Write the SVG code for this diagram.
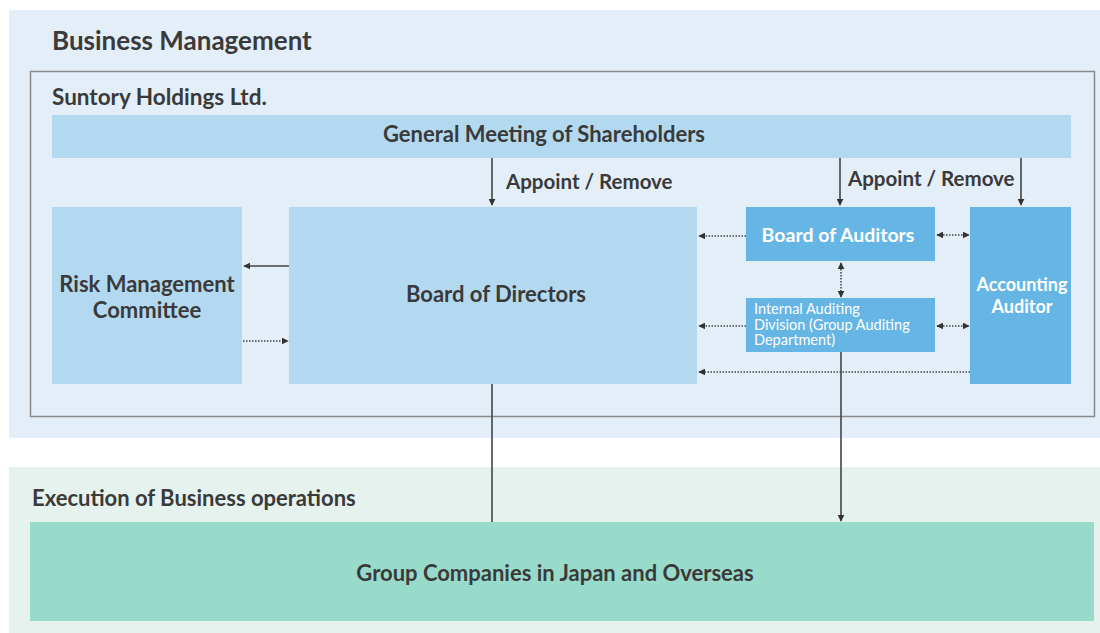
<svg xmlns="http://www.w3.org/2000/svg" width="1100" height="633" viewBox="0 0 1100 633">
<style>
text{font-family:Lato,"Open Sans","Liberation Sans",sans-serif;font-weight:700;fill:#3a3a3a}
.w{fill:#ffffff}
.c{text-anchor:middle}
.n{font-weight:400}
.solid{stroke:#444;stroke-width:1.6;fill:none}
.dot{stroke:#444;stroke-width:1.6;fill:none;stroke-dasharray:1.5 1.5}
</style>
<defs>
<marker id="ah" viewBox="0 0 10 10" refX="9" refY="5" markerWidth="7" markerHeight="7" orient="auto-start-reverse" markerUnits="userSpaceOnUse"><path d="M0,0 L10,5 L0,10 z" fill="#333"/></marker>
</defs>
<rect width="1100" height="633" fill="#ffffff"/>
<g id="business-management">
<rect x="9" y="10" width="1091" height="428" fill="#e3eef8"/>
<text x="52" y="50" font-size="26">Business Management</text>
</g>
<g id="suntory-holdings">
<rect x="30.5" y="71.5" width="1064" height="345" fill="none" stroke="#8a8a8a" stroke-width="1.5"/>
<text x="52" y="105" font-size="22.5">Suntory Holdings Ltd.</text>
</g>
<g id="execution">
<rect x="9" y="467" width="1091" height="166" fill="#e5f2ee"/>
<text x="32" y="506" font-size="22">Execution of Business operations</text>
</g>
<g id="general-meeting">
<rect x="52" y="115" width="1019" height="43" fill="#b3d9f0"/>
<text x="544" y="142" font-size="22" class="c">General Meeting of Shareholders</text>
</g>
<g id="risk-management">
<rect x="52" y="207" width="190" height="177" fill="#b3d9f0"/>
<text x="147" y="292" font-size="22" class="c">Risk Management</text>
<text x="147" y="318" font-size="22" class="c">Committee</text>
</g>
<g id="board-of-directors">
<rect x="289" y="207" width="408" height="177" fill="#b3d9f0"/>
<text x="496" y="302" font-size="22" class="c">Board of Directors</text>
</g>
<g id="board-of-auditors">
<rect x="746" y="207" width="189" height="54" fill="#65b5e5"/>
<text x="838" y="242" font-size="19.5" class="c w">Board of Auditors</text>
</g>
<g id="internal-auditing">
<rect x="746" y="298" width="189" height="54" fill="#65b5e5"/>
<text x="754" y="314" font-size="14.5" class="w n">Internal Auditing</text>
<text x="754" y="329.5" font-size="14.5" class="w n">Division (Group Auditing</text>
<text x="754" y="345" font-size="14.5" class="w n">Department)</text>
</g>
<g id="accounting-auditor">
<rect x="970" y="207" width="101" height="177" fill="#65b5e5"/>
<text x="1022" y="291" font-size="18" class="c w">Accounting</text>
<text x="1022" y="313" font-size="18" class="c w">Auditor</text>
</g>
<g id="group-companies">
<rect x="30" y="522" width="1064" height="99" fill="#99dbcb"/>
<text x="555" y="581" font-size="22" class="c">Group Companies in Japan and Overseas</text>
</g>
<g id="connectors">
<line class="solid" x1="492" y1="158" x2="492" y2="205" marker-end="url(#ah)"/>
<line class="solid" x1="840" y1="158" x2="840" y2="205" marker-end="url(#ah)"/>
<line class="solid" x1="1021" y1="158" x2="1021" y2="205" marker-end="url(#ah)"/>
<line class="solid" x1="289" y1="266" x2="244" y2="266" marker-end="url(#ah)"/>
<line class="dot" x1="243" y1="341" x2="288" y2="341" marker-end="url(#ah)"/>
<line class="dot" x1="746" y1="236" x2="699" y2="236" marker-end="url(#ah)"/>
<line class="dot" x1="937" y1="235" x2="969" y2="235" marker-start="url(#ah)" marker-end="url(#ah)"/>
<line class="dot" x1="841" y1="263" x2="841" y2="297" marker-start="url(#ah)" marker-end="url(#ah)"/>
<line class="dot" x1="746" y1="326" x2="699" y2="326" marker-end="url(#ah)"/>
<line class="dot" x1="937" y1="326" x2="969" y2="326" marker-start="url(#ah)" marker-end="url(#ah)"/>
<line class="dot" x1="970" y1="372" x2="699" y2="372" marker-end="url(#ah)"/>
<line class="solid" x1="492" y1="384" x2="492" y2="522"/>
<line class="solid" x1="841" y1="352" x2="841" y2="521" marker-end="url(#ah)"/>
<text x="506" y="189" font-size="20.5">Appoint / Remove</text>
<text x="848" y="186" font-size="20.5">Appoint / Remove</text>
</g>
</svg>
